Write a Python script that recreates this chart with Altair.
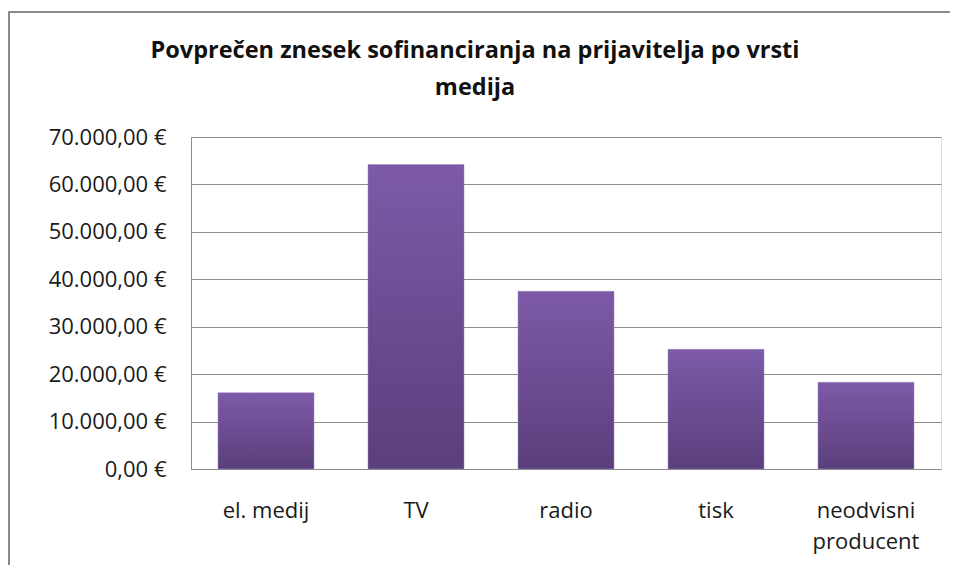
import altair as alt
import pandas as pd

categories = ["el. medij", "TV", "radio", "tisk", "neodvisni producent"]
values = [16080, 64180, 37470, 25230, 18270]
y_ticks = [0, 10000, 20000, 30000, 40000, 50000, 60000, 70000]
title_lines = ["Povprečen znesek sofinanciranja na prijavitelja po vrsti", "medija"]

df = pd.DataFrame({"vrsta": categories, "znesek": values})

W, H = 750, 332
FONT = "Open Sans"

bars = alt.Chart(df).mark_bar(
    color=alt.Gradient(
        gradient="linear",
        stops=[alt.GradientStop(color="#7C5AA8", offset=0),
               alt.GradientStop(color="#5B3F7C", offset=1)],
        x1=0, x2=0, y1=0, y2=1,
    ),
    stroke="#9A84BC",
    strokeWidth=0.5,
).encode(
    x=alt.X("vrsta:N", sort=categories, title=None,
            scale=alt.Scale(paddingInner=0.36, paddingOuter=0.18),
            axis=alt.Axis(labelAngle=0, labelBaseline="top", labelPadding=31,
                          labelFontSize=22, labelLineHeight=31, labelColor="#1a1a1a",
                          labelFont=FONT, ticks=False, domainColor="#8c8c8c",
                          labelExpr="datum.label == 'neodvisni producent' ? ['neodvisni', 'producent'] : datum.label")),
    y=alt.Y("znesek:Q", title=None,
            scale=alt.Scale(domain=[0, 70000], nice=False),
            axis=alt.Axis(values=y_ticks, format="$,.2f", labelFontSize=22,
                          labelFont=FONT, labelColor="#1a1a1a", labelPadding=25,
                          labelLimit=300,
                          ticks=False, domainColor="#8c8c8c", gridColor="#8c8c8c",
                          grid=True)),
)

frame = alt.Chart(pd.DataFrame({"f": [0]})).mark_rect(
    fill="transparent", stroke="#8a8a8a", strokeWidth=2
).encode(
    x=alt.value(-182), x2=alt.value(W + 60),
    y=alt.value(-125), y2=alt.value(H + 200),
)

title1 = alt.Chart(pd.DataFrame({"t": [title_lines[0]]})).mark_text(
    font=FONT, fontSize=23.5, fontWeight="bold", color="#111111",
    align="center", baseline="alphabetic",
).encode(text="t:N", x=alt.value(284), y=alt.value(-79))

title2 = alt.Chart(pd.DataFrame({"t": [title_lines[1]]})).mark_text(
    font=FONT, fontSize=23.5, fontWeight="bold", color="#111111",
    align="center", baseline="alphabetic",
).encode(text="t:N", x=alt.value(284), y=alt.value(-42))

chart = alt.layer(frame, bars, title1, title2).properties(
    width=W, height=H,
    autosize=alt.AutoSizeParams(type="none"),
    padding={"left": 183, "top": 129, "right": 9, "bottom": 96},
).configure_view(stroke=None).configure(
    locale={"number": {"decimal": ",", "thousands": ".", "grouping": [3],
                       "currency": ["", "\u00a0€"]}}
)

chart.save("out.html", embed_options={"renderer": "svg", "actions": False})
